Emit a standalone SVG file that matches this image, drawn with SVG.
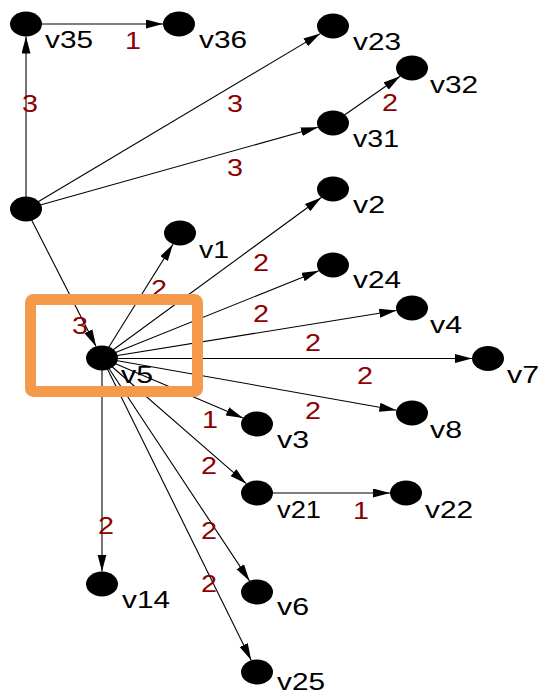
<svg xmlns="http://www.w3.org/2000/svg" width="541" height="697" viewBox="0 0 541 697">
  <style>
    .edge { stroke: #000; stroke-width: 1.1; fill: none; marker-end: url(#arrow); }
    .node ellipse { fill: #000; }
    .name { font-family: "Liberation Sans", Arial, sans-serif; font-size: 24px; fill: #000; }
    .weight { font-family: "Liberation Sans", Arial, sans-serif; font-size: 24px; fill: #8B0000; text-anchor: middle; }
    .focus { fill: none; stroke: #F5994A; stroke-width: 11; }
  </style>
  <defs>
    <marker id="arrow" markerUnits="userSpaceOnUse" markerWidth="18" markerHeight="10" refX="17" refY="4.5" orient="auto">
      <path d="M0,0 L17,4.5 L0,9 z" fill="#000"/>
    </marker>
  </defs>
  <rect width="541" height="697" fill="#fff"/>

  <!-- connectors -->
  <g id="edges">
    <line class="edge" x1="26" y1="209" x2="26" y2="36.5"/>
    <line class="edge" x1="26" y1="24" x2="163" y2="24"/>
    <line class="edge" x1="26" y1="209" x2="320.3" y2="33.6"/>
    <line class="edge" x1="26" y1="209" x2="317.9" y2="127.2"/>
    <line class="edge" x1="333" y1="123" x2="400.1" y2="76.3"/>
    <line class="edge" x1="26" y1="209" x2="96.1" y2="346.4"/>
    <line class="edge" x1="102" y1="358" x2="173" y2="244.2"/>
    <line class="edge" x1="102" y1="358" x2="321.3" y2="197.5"/>
    <line class="edge" x1="102" y1="358" x2="318.8" y2="270.7"/>
    <line class="edge" x1="102" y1="358" x2="396.3" y2="310.5"/>
    <line class="edge" x1="102" y1="358.5" x2="472" y2="358.5"/>
    <line class="edge" x1="102" y1="358" x2="396.4" y2="410.2"/>
    <line class="edge" x1="102" y1="358" x2="243" y2="418"/>
    <line class="edge" x1="102" y1="358" x2="246.3" y2="483.7"/>
    <line class="edge" x1="257" y1="493" x2="390" y2="493"/>
    <line class="edge" x1="102" y1="358" x2="102" y2="571.5"/>
    <line class="edge" x1="102" y1="358" x2="249.6" y2="580.9"/>
    <line class="edge" x1="102" y1="358" x2="251.2" y2="660.3"/>
  </g>

  <!-- edge weights -->
  <g id="weights">
    <text class="weight" x="30" y="112" textLength="16" lengthAdjust="spacingAndGlyphs">3</text>
    <text class="weight" x="133" y="49" textLength="16" lengthAdjust="spacingAndGlyphs">1</text>
    <text class="weight" x="235" y="112" textLength="16" lengthAdjust="spacingAndGlyphs">3</text>
    <text class="weight" x="235" y="176" textLength="16" lengthAdjust="spacingAndGlyphs">3</text>
    <text class="weight" x="390" y="111" textLength="16" lengthAdjust="spacingAndGlyphs">2</text>
    <text class="weight" x="80" y="334" textLength="16" lengthAdjust="spacingAndGlyphs">3</text>
    <text class="weight" x="159" y="297" textLength="16" lengthAdjust="spacingAndGlyphs">2</text>
    <text class="weight" x="261" y="271" textLength="16" lengthAdjust="spacingAndGlyphs">2</text>
    <text class="weight" x="261" y="322" textLength="16" lengthAdjust="spacingAndGlyphs">2</text>
    <text class="weight" x="313" y="351" textLength="16" lengthAdjust="spacingAndGlyphs">2</text>
    <text class="weight" x="365" y="384" textLength="16" lengthAdjust="spacingAndGlyphs">2</text>
    <text class="weight" x="313" y="419" textLength="16" lengthAdjust="spacingAndGlyphs">2</text>
    <text class="weight" x="210" y="428" textLength="16" lengthAdjust="spacingAndGlyphs">1</text>
    <text class="weight" x="209" y="474" textLength="16" lengthAdjust="spacingAndGlyphs">2</text>
    <text class="weight" x="361" y="519" textLength="16" lengthAdjust="spacingAndGlyphs">1</text>
    <text class="weight" x="106" y="534" textLength="16" lengthAdjust="spacingAndGlyphs">2</text>
    <text class="weight" x="209" y="539" textLength="16" lengthAdjust="spacingAndGlyphs">2</text>
    <text class="weight" x="209" y="592" textLength="16" lengthAdjust="spacingAndGlyphs">2</text>
  </g>

  <!-- nodes -->
  <g id="root" class="node"><ellipse cx="26" cy="209" rx="16" ry="12.5"/></g>
  <g id="v35" class="node"><ellipse cx="26" cy="24" rx="16" ry="12.5"/><text class="name" x="45" y="48" textLength="48" lengthAdjust="spacingAndGlyphs">v35</text></g>
  <g id="v36" class="node"><ellipse cx="179" cy="24" rx="16" ry="12.5"/><text class="name" x="199" y="48" textLength="48" lengthAdjust="spacingAndGlyphs">v36</text></g>
  <g id="v23" class="node"><ellipse cx="333" cy="26" rx="16" ry="12.5"/><text class="name" x="353" y="50" textLength="48" lengthAdjust="spacingAndGlyphs">v23</text></g>
  <g id="v32" class="node"><ellipse cx="412" cy="68" rx="16" ry="12.5"/><text class="name" x="430" y="93" textLength="48" lengthAdjust="spacingAndGlyphs">v32</text></g>
  <g id="v31" class="node"><ellipse cx="333" cy="123" rx="16" ry="12.5"/><text class="name" x="353" y="147" textLength="46" lengthAdjust="spacingAndGlyphs">v31</text></g>
  <g id="v2" class="node"><ellipse cx="333" cy="189" rx="16" ry="12.5"/><text class="name" x="353" y="213" textLength="32" lengthAdjust="spacingAndGlyphs">v2</text></g>
  <g id="v1" class="node"><ellipse cx="180" cy="233" rx="16" ry="12.5"/><text class="name" x="199" y="258" textLength="30" lengthAdjust="spacingAndGlyphs">v1</text></g>
  <g id="v24" class="node"><ellipse cx="333" cy="265" rx="16" ry="12.5"/><text class="name" x="353" y="288" textLength="48" lengthAdjust="spacingAndGlyphs">v24</text></g>
  <g id="v4" class="node"><ellipse cx="412" cy="308" rx="16" ry="12.5"/><text class="name" x="430" y="333" textLength="32" lengthAdjust="spacingAndGlyphs">v4</text></g>
  <g id="v5" class="node"><ellipse cx="102" cy="358" rx="16" ry="12.5"/><text class="name" x="121" y="383" textLength="32" lengthAdjust="spacingAndGlyphs">v5</text></g>
  <g id="v7" class="node"><ellipse cx="488" cy="358.5" rx="16" ry="12.5"/><text class="name" x="507" y="383" textLength="32" lengthAdjust="spacingAndGlyphs">v7</text></g>
  <g id="v8" class="node"><ellipse cx="412" cy="413" rx="16" ry="12.5"/><text class="name" x="430" y="438" textLength="32" lengthAdjust="spacingAndGlyphs">v8</text></g>
  <g id="v3" class="node"><ellipse cx="257" cy="424" rx="16" ry="12.5"/><text class="name" x="277" y="448" textLength="32" lengthAdjust="spacingAndGlyphs">v3</text></g>
  <g id="v21" class="node"><ellipse cx="257" cy="493" rx="16" ry="12.5"/><text class="name" x="277" y="518" textLength="44" lengthAdjust="spacingAndGlyphs">v21</text></g>
  <g id="v22" class="node"><ellipse cx="406" cy="493" rx="16" ry="12.5"/><text class="name" x="425" y="518" textLength="48" lengthAdjust="spacingAndGlyphs">v22</text></g>
  <g id="v14" class="node"><ellipse cx="102" cy="584" rx="16" ry="12.5"/><text class="name" x="122" y="608" textLength="48" lengthAdjust="spacingAndGlyphs">v14</text></g>
  <g id="v6" class="node"><ellipse cx="257" cy="592" rx="16" ry="12.5"/><text class="name" x="277" y="615" textLength="32" lengthAdjust="spacingAndGlyphs">v6</text></g>
  <g id="v25" class="node"><ellipse cx="257" cy="672" rx="16" ry="12.5"/><text class="name" x="277" y="690" textLength="48" lengthAdjust="spacingAndGlyphs">v25</text></g>

  <!-- highlight box around v5 -->
  <rect class="focus" x="30.5" y="299.5" width="167" height="92" rx="3"/>
</svg>
